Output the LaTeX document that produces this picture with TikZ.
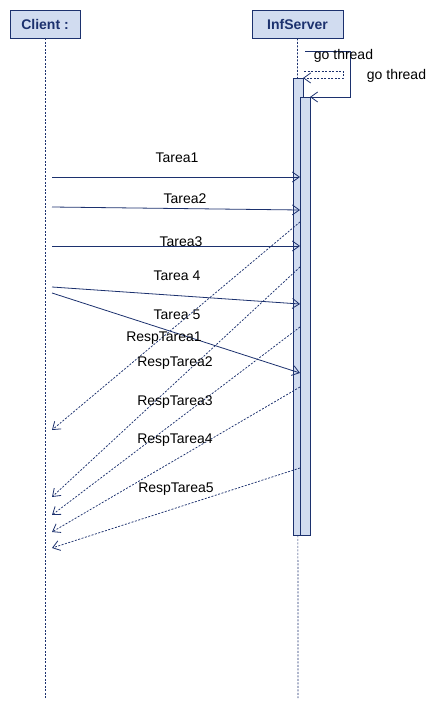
\documentclass[tikz,border=0pt]{standalone}
\usepackage{fontspec}
\setmainfont{Liberation Sans}
\usetikzlibrary{arrows.meta}
\definecolor{umlblue}{RGB}{28,49,110}
\definecolor{umlfill}{RGB}{209,220,240}
\begin{document}
\begin{tikzpicture}[x=1pt,y=-1pt,
  every node/.style={font=\fontsize{14}{16}\selectfont},
  head/.style={draw=umlblue,fill=umlfill,line width=0.9pt,minimum height=28pt,inner sep=0pt,font=\fontsize{14}{16}\selectfont\bfseries,text=umlblue},
  life/.style={umlblue,line width=0.7pt,dash pattern=on 2pt off 1.5pt},
  act/.style={draw=umlblue,fill=umlfill,line width=0.9pt},
  msg/.style={umlblue,line width=0.8pt,-{Straight Barb[length=7pt,width=10pt]}},
  resp/.style={umlblue,line width=0.75pt,dash pattern=on 2pt off 1.5pt,-{Straight Barb[length=7pt,width=10pt,line width=0.8pt]}}]
\useasboundingbox (0,0) rectangle (447,709);
% cabeceras
\node[head,minimum width=70pt] (client) at (45,24) {Client :};
\node[head,minimum width=91pt] (server) at (297.5,24) {InfServer};
\coordinate (clientend) at (45,698);
\coordinate (serverend) at (298,698);
\draw[life] (client.south) -- (clientend);
\draw[life] (server.south) -- (serverend);
% activaciones
\draw[act] (293,78) rectangle (303,535);
\draw[act] (300,97) rectangle (310,535);
% go thread
\coordinate (g1s) at (305,51);
\coordinate (g1e) at (310,97);
\coordinate (g2s) at (304,71);
\coordinate (g2e) at (303,78);
\draw[msg] (g1s) -- (350,51) -- (350,97) -- (g1e);
\draw[resp] (g2s) -- (343,71) -- (343,78) -- (g2e);
\node (go1) at (343.5,56) {go thread};
\node (go2) at (396.5,76) {go thread};
% tareas
\coordinate (t1s) at (52,177);  \coordinate (t1e) at (300,177);
\coordinate (t2s) at (52,207);  \coordinate (t2e) at (300,210);
\coordinate (t3s) at (52,246);  \coordinate (t3e) at (300,246);
\coordinate (t4s) at (52,287);  \coordinate (t4e) at (300,304);
\coordinate (t5s) at (52,293);  \coordinate (t5e) at (300,373);
\draw[msg] (t1s) -- (t1e);
\draw[msg] (t2s) -- (t2e);
\draw[msg] (t3s) -- (t3e);
\draw[msg] (t4s) -- (t4e);
\draw[msg] (t5s) -- (t5e);
\node (tarea1) at (177,158) {Tarea1};
\node (tarea2) at (185,199) {Tarea2};
\node (tarea3) at (181,242) {Tarea3};
\node (tarea4) at (177,276) {Tarea 4};
\node (tarea5) at (177,315) {Tarea 5};
% respuestas
\coordinate (r1s) at (300,222);  \coordinate (r1e) at (52,430);
\coordinate (r2s) at (300,267);  \coordinate (r2e) at (52,497);
\coordinate (r3s) at (300,327);  \coordinate (r3e) at (52,515);
\coordinate (r4s) at (300,387);  \coordinate (r4e) at (52,532);
\coordinate (r5s) at (300,468);  \coordinate (r5e) at (52,548);
\draw[resp] (r1s) -- (r1e);
\draw[resp] (r2s) -- (r2e);
\draw[resp] (r3s) -- (r3e);
\draw[resp] (r4s) -- (r4e);
\draw[resp] (r5s) -- (r5e);
\node (resp1) at (164,338) {RespTarea1};
\node (resp2) at (175,363) {RespTarea2};
\node (resp3) at (175,402) {RespTarea3};
\node (resp4) at (175,440) {RespTarea4};
\node (resp5) at (176,489) {RespTarea5};
\end{tikzpicture}
\end{document}
